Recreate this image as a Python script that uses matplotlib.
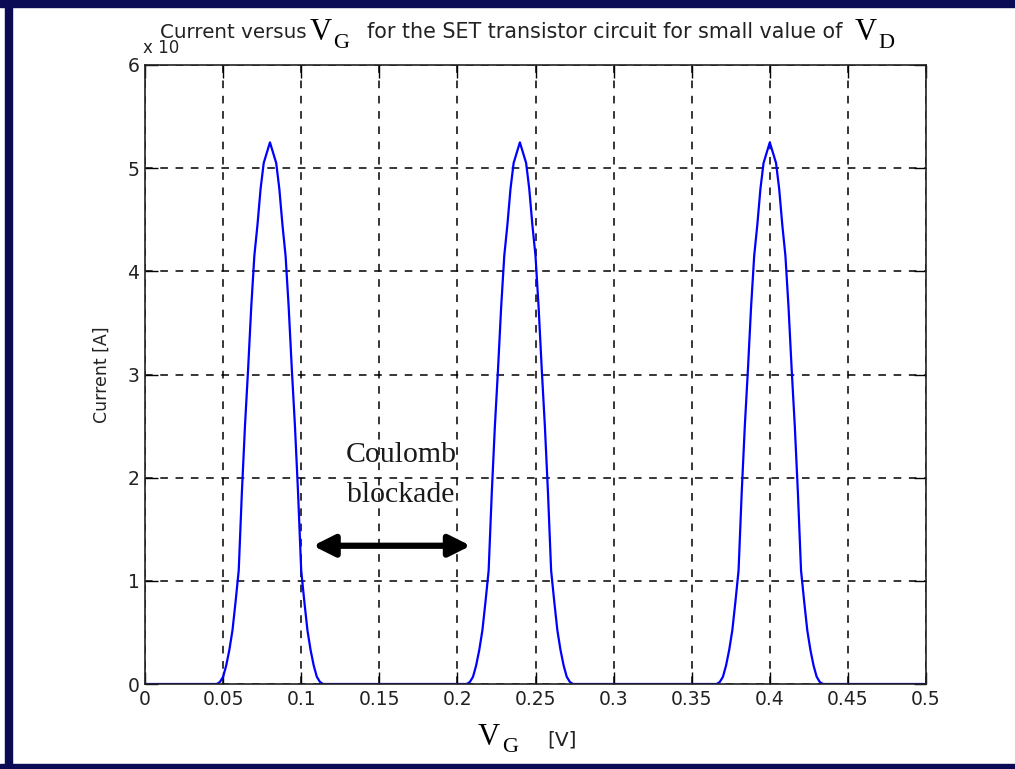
import matplotlib
matplotlib.use('Agg')
import matplotlib.pyplot as plt
from matplotlib.patches import Rectangle

# ---- data (current in units of 1e-9 A) ----
peak_centers = [0.08, 0.24, 0.40]
peak_offsets = [-0.034, -0.032, -0.030, -0.028, -0.026, -0.024, -0.022, -0.020,
                -0.018, -0.016, -0.014, -0.012, -0.010, -0.008, -0.006, -0.004,
                -0.002, 0.0, 0.002, 0.004, 0.006, 0.008, 0.010, 0.012, 0.014,
                0.016, 0.018, 0.020, 0.022, 0.024, 0.026, 0.028, 0.030, 0.032, 0.034]
peak_current = [0.0, 0.02, 0.07, 0.18, 0.33, 0.52, 0.80, 1.10,
                1.85, 2.50, 3.05, 3.65, 4.15, 4.45, 4.80, 5.05,
                5.15, 5.25, 5.15, 5.05, 4.80, 4.45, 4.15, 3.65, 3.05,
                2.50, 1.85, 1.10, 0.80, 0.52, 0.33, 0.18, 0.07, 0.02, 0.0]
vg_range = [0.0, 0.5]
x_ticks = [0, 0.05, 0.1, 0.15, 0.2, 0.25, 0.3, 0.35, 0.4, 0.45, 0.5]
x_tick_labels = ['0', '0.05', '0.1', '0.15', '0.2', '0.25', '0.3', '0.35', '0.4', '0.45', '0.5']
y_ticks = [0, 1, 2, 3, 4, 5, 6]

vg = [vg_range[0]]
cur = [0.0]
for c in peak_centers:
    for o, v in zip(peak_offsets, peak_current):
        vg.append(c + o)
        cur.append(v)
vg.append(vg_range[1])
cur.append(0.0)

W, H = 1015, 769
fig = plt.figure(figsize=(W / 100, H / 100), dpi=100)
fig.patch.set_facecolor('white')

def px(x, y):
    return x / W, 1 - y / H

ax = fig.add_axes([145 / W, 1 - 684 / H, (926 - 145) / W, (684 - 65) / H])
ax.plot(vg, cur, color='#0000ff', lw=1.6)
ax.set_xlim(0, 0.5)
ax.set_ylim(0, 6)
ax.set_xticks(x_ticks)
ax.set_xticklabels(x_tick_labels)
ax.set_yticks(y_ticks)
ax.grid(True, color='black', linestyle=(0, (5, 5)), lw=1.1)
ax.tick_params(direction='in', length=9, width=1, top=True, right=True,
               labelsize=13.5, labelcolor='#222222', pad=4)
for s in ax.spines.values():
    s.set_linewidth(1.2)
    s.set_color('#222222')

ax.set_ylabel('Current [A]', fontsize=12.5, color='#222222', labelpad=12)

# annotation
ax.text(0.164, 2.22, 'Coulomb', family='Liberation Serif', fontsize=21.5,
        ha='center', va='center', color='#1a1a1a')
ax.text(0.164, 1.83, 'blockade', family='Liberation Serif', fontsize=21.5,
        ha='center', va='center', color='#1a1a1a')
ax.annotate('', xy=(0.2085, 1.34), xytext=(0.1075, 1.34),
            arrowprops=dict(arrowstyle='<|-|>', lw=4.5, color='black',
                            mutation_scale=32, shrinkA=0, shrinkB=0))

# title pieces
tc = '#222222'
fig.text(*px(160, 38), 'Current versus', fontsize=14.3, color=tc, va='baseline')
fig.text(*px(310, 40), 'V', family='Liberation Serif', fontsize=22, color='black', va='baseline')
fig.text(*px(333, 48), 'G', family='Liberation Serif', fontsize=16, color='black', va='baseline')
fig.text(*px(367, 38), 'for the SET transistor circuit for small value of', fontsize=14.9,
         color=tc, va='baseline')
fig.text(*px(855, 40), 'V', family='Liberation Serif', fontsize=22, color='black', va='baseline')
fig.text(*px(878, 48), 'D', family='Liberation Serif', fontsize=16, color='black', va='baseline')
fig.text(*px(143, 53), 'x 10', fontsize=12, color=tc, va='baseline')

# x label pieces
fig.text(*px(478, 745), 'V', family='Liberation Serif', fontsize=22, color='black', va='baseline')
fig.text(*px(502, 752), 'G', family='Liberation Serif', fontsize=16, color='black', va='baseline')
fig.text(*px(547, 745), '[V]', fontsize=14.5, color=tc, va='baseline')

# navy frame (left, top, bottom)
navy = '#0a0a55'
fig.patches.append(Rectangle(px(5, 769), 7 / W, 1, transform=fig.transFigure, color=navy))
fig.patches.append(Rectangle(px(0, 7), 1, 7 / H, transform=fig.transFigure, color=navy))
fig.patches.append(Rectangle(px(0, 769), 1, 5 / H, transform=fig.transFigure, color=navy))

fig.savefig('out.png', dpi=100)
